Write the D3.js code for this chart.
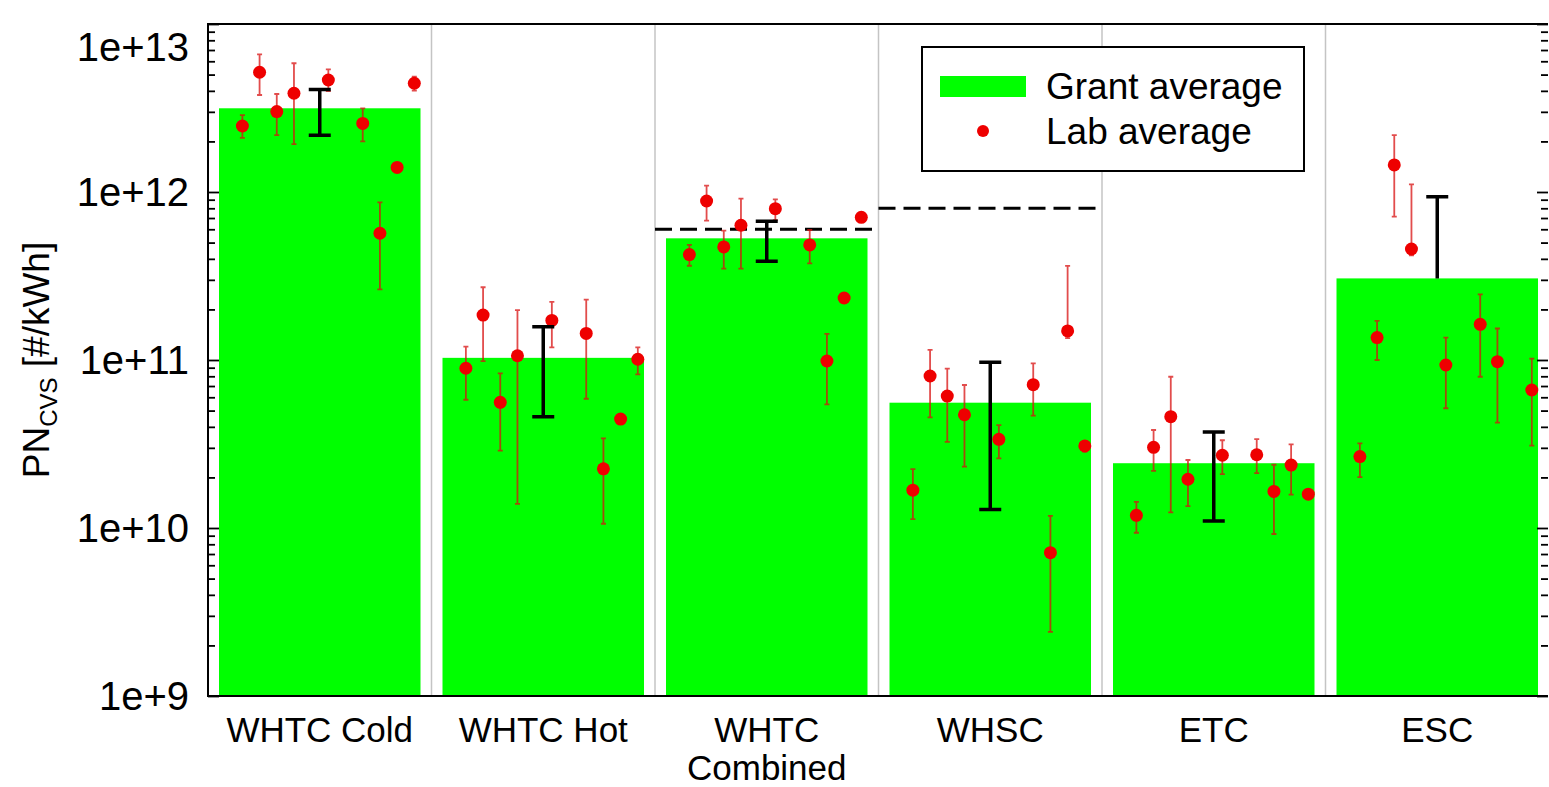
<!DOCTYPE html>
<html>
<head>
<meta charset="utf-8">
<script src="https://cdn.jsdelivr.net/npm/d3@7"></script>
<style>
  body { margin: 0; background: #fff; }
  text { font-family: "Liberation Sans", Arial, sans-serif; fill: #000; }
</style>
</head>
<body>
<div id="chart"></div>
<script>
// categories (test cycles)
var cycles = ["WHTC Cold", "WHTC Hot", "WHTC Combined", "WHSC", "ETC", "ESC"];
var cycleLabels = [["WHTC Cold"], ["WHTC Hot"], ["WHTC", "Combined"], ["WHSC"], ["ETC"], ["ESC"]];

// grant average (bars) and its spread (black error bars)
var grantAvg  = [3.15e12, 1.03e11, 5.30e11, 5.57e10, 2.43e10, 3.06e11];
var grantLow  = [2.18e12, 4.60e10, 3.87e11, 1.29e10, 1.10e10, null];
var grantHigh = [4.08e12, 1.58e11, 6.69e11, 9.69e10, 3.73e10, 9.37e11];

// limit values (dashed lines)
var limitValue = [null, null, 6.0e11, 8.0e11, null, null];

// lab averages, 12 lab slots per cycle (null = no result)
var labMean = [
  [null, 2.47e12, 5.16e12, 3.01e12, 3.87e12, null, 4.64e12, null, 2.56e12, 5.68e11, 1.40e12, 4.44e12],
  [null, 8.93e10, 1.85e11, 5.60e10, 1.06e11, null, 1.72e11, null, 1.44e11, 2.25e10, 4.45e10, 1.01e11],
  [null, 4.24e11, 8.84e11, 4.71e11, 6.34e11, null, 7.96e11, null, 4.84e11, 9.86e10, 2.34e11, 7.07e11],
  [null, 1.68e10, 8.03e10, 6.10e10, 4.72e10, null, 3.37e10, null, 7.13e10, 7.13e9, 1.49e11, 3.08e10],
  [null, 1.19e10, 3.02e10, 4.60e10, 1.95e10, null, 2.71e10, null, 2.73e10, 1.65e10, 2.37e10, 1.59e10],
  [null, 2.66e10, 1.36e11, 1.45e12, 4.58e11, null, 9.34e10, null, 1.63e11, 9.77e10, null, 6.63e10]
];
var labLow = [
  [null, 2.10e12, 3.78e12, 2.18e12, 1.93e12, null, 3.99e12, null, 2.00e12, 2.63e11, null, 4.01e12],
  [null, 5.80e10, 9.86e10, 2.89e10, 1.39e10, null, 1.19e11, null, 5.88e10, 1.06e10, null, 8.22e10],
  [null, 3.64e11, 6.75e11, 3.50e11, 3.50e11, null, 6.81e11, null, 3.76e11, 5.45e10, null, null],
  [null, 1.13e10, 4.56e10, 3.26e10, 2.32e10, null, 2.60e10, null, 4.66e10, 2.41e9, 1.35e11, 2.85e10],
  [null, 9.37e9, 2.19e10, 1.24e10, 1.35e10, null, 2.09e10, null, 2.12e10, 9.21e9, 1.58e10, null],
  [null, 2.01e10, 1.00e11, 7.13e11, 4.20e11, null, 5.16e10, null, 7.95e10, 4.24e10, null, 3.09e10]
];
var labHigh = [
  [null, 2.87e12, 6.60e12, 3.83e12, 5.84e12, null, 5.37e12, null, 3.15e12, 8.68e11, null, 4.86e12],
  [null, 1.20e11, 2.71e11, 8.33e10, 1.98e11, null, 2.22e11, null, 2.29e11, 3.42e10, null, 1.19e11],
  [null, 4.84e11, 1.09e12, 5.89e11, 9.12e11, null, 9.05e11, null, 5.94e11, 1.43e11, null, null],
  [null, 2.24e10, 1.15e11, 8.88e10, 7.10e10, null, 4.10e10, null, 9.56e10, 1.18e10, 3.63e11, 3.30e10],
  [null, 1.43e10, 3.83e10, 7.95e10, 2.54e10, null, 3.33e10, null, 3.38e10, 2.38e10, 3.15e10, null],
  [null, 3.19e10, 1.71e11, 2.18e12, 1.11e12, null, 1.36e11, null, 2.46e11, 1.54e11, null, 1.02e11]
];

// y tick labels
var yTickValues = [1e9, 1e10, 1e11, 1e12, 1e13];
var yTickLabels = ["1e+9", "1e+10", "1e+11", "1e+12", "1e+13"];

var W = 1549, H = 787;
var margin = { top: 24, right: 0, bottom: 91, left: 208 };
var width = W - margin.left - margin.right,
    height = H - margin.top - margin.bottom;

var svg = d3.select("#chart").append("svg")
    .attr("width", W)
    .attr("height", H);

var g = svg.append("g")
    .attr("transform", "translate(" + margin.left + "," + margin.top + ")");

// ESCALAS
var x = d3.scaleBand().domain(cycles).range([0, width]).padding(0);
var y = d3.scaleLog().domain([1e9, 1e13]).range([height, 0]);
var slot = d3.scaleLinear().domain([0, 13]).range([0, x.bandwidth()]); // lab slots inside a group

// separadores verticales
g.selectAll(".sep")
    .data(cycles.slice(1))
    .enter().append("line")
    .attr("x1", d => x(d)).attr("x2", d => x(d))
    .attr("y1", 0).attr("y2", height)
    .attr("stroke", "#c4c4c4")
    .attr("stroke-width", 1.5);

// barras (grant average)
var barInset = 11;
g.selectAll(".bar")
    .data(cycles)
    .enter().append("rect")
    .attr("x", d => x(d) + barInset)
    .attr("width", x.bandwidth() - 2 * barInset)
    .attr("y", (d, i) => y(grantAvg[i]))
    .attr("height", (d, i) => height - y(grantAvg[i]))
    .attr("fill", "#00ff00");

// limites (dashed)
g.selectAll(".limit")
    .data(cycles.filter((d, i) => limitValue[i] != null))
    .enter().append("line")
    .attr("x1", d => x(d)).attr("x2", d => x(d) + x.bandwidth())
    .attr("y1", d => y(limitValue[cycles.indexOf(d)]))
    .attr("y2", d => y(limitValue[cycles.indexOf(d)]))
    .attr("stroke", "#000")
    .attr("stroke-width", 3)
    .attr("stroke-dasharray", "17,8");

// lab points
var labs = [];
cycles.forEach(function(c, i) {
    labMean[i].forEach(function(v, k) {
        if (v == null) return;
        labs.push({ cycle: c, k: k + 1, mean: v, low: labLow[i][k], high: labHigh[i][k] });
    });
});

var labG = g.append("g");
var withErr = labs.filter(d => d.low != null);
var capW = 2.5;

labG.selectAll(".eb")
    .data(withErr)
    .enter().append("path")
    .attr("d", function(d) {
        var cx = x(d.cycle) + slot(d.k);
        var yl = y(d.low), yh = y(d.high);
        return "M" + (cx - capW) + "," + yh + "H" + (cx + capW) +
               "M" + cx + "," + yh + "V" + yl +
               "M" + (cx - capW) + "," + yl + "H" + (cx + capW);
    })
    .attr("fill", "none")
    .attr("stroke", "#d81010")
    .attr("stroke-opacity", 0.75)
    .attr("stroke-width", 1.8);

labG.selectAll(".dot")
    .data(labs)
    .enter().append("circle")
    .attr("cx", d => x(d.cycle) + slot(d.k))
    .attr("cy", d => y(d.mean))
    .attr("r", 6.5)
    .attr("fill", "#ee0000");

// black error bars (grant spread)
var bigCap = 11;
g.selectAll(".geb")
    .data(cycles)
    .enter().append("path")
    .attr("d", function(d, i) {
        var cx = x(d) + x.bandwidth() / 2;
        var yh = y(grantHigh[i]);
        var p = "M" + (cx - bigCap) + "," + yh + "H" + (cx + bigCap) + "M" + cx + "," + yh;
        if (grantLow[i] != null) {
            var yl = y(grantLow[i]);
            p += "V" + yl + "M" + (cx - bigCap) + "," + yl + "H" + (cx + bigCap);
        } else {
            p += "V" + y(grantAvg[i]);
        }
        return p;
    })
    .attr("fill", "none")
    .attr("stroke", "#000")
    .attr("stroke-width", 3.5);

// EJES: ticks hacia dentro a ambos lados
var ticksAll = y.ticks();
function tickLen(d) {
    var l = Math.log10(d);
    return Math.abs(l - Math.round(l)) < 1e-6 ? 11 : 7;
}
var leftAx = g.append("g").call(d3.axisRight(y).tickValues(ticksAll).tickFormat("").tickSizeOuter(0));
leftAx.selectAll(".tick line").attr("x2", d => tickLen(d)).attr("stroke-width", 1.8);
leftAx.select(".domain").remove();

var rightAx = g.append("g").attr("transform", "translate(" + (width - 1) + ",0)")
    .call(d3.axisLeft(y).tickValues(ticksAll).tickFormat("").tickSizeOuter(0));
rightAx.selectAll(".tick line").attr("x2", d => -tickLen(d)).attr("stroke-width", 1.8);
rightAx.select(".domain").remove();

// frame
g.append("path")
    .attr("d", "M" + (width - 1) + ",0H0V" + height + "H" + (width - 1))
    .attr("fill", "none")
    .attr("stroke", "#000")
    .attr("stroke-width", 2);

// y tick labels
g.selectAll(".ylab")
    .data(yTickValues)
    .enter().append("text")
    .attr("x", -19)
    .attr("y", d => Math.max(y(d), 23))
    .attr("dy", "0.36em")
    .attr("text-anchor", "end")
    .style("font-size", "40px")
    .text((d, i) => yTickLabels[i]);

// x labels
var xl = g.selectAll(".xlab")
    .data(cycles)
    .enter().append("text")
    .attr("text-anchor", "middle")
    .attr("transform", d => "translate(" + (x(d) + x.bandwidth() / 2) + "," + (height + 46) + ")")
    .style("font-size", "35px");
xl.selectAll("tspan")
    .data((d, i) => cycleLabels[i])
    .enter().append("tspan")
    .attr("x", 0)
    .attr("dy", (d, j) => j === 0 ? 0 : 38)
    .text(d => d);

// y axis title
var yt = svg.append("text")
    .attr("transform", "translate(49," + (margin.top + height / 2) + ") rotate(-90)")
    .attr("text-anchor", "middle")
    .style("font-size", "37px");
yt.append("tspan").text("PN");
yt.append("tspan").attr("dy", 8).style("font-size", "24px").text("CVS");
yt.append("tspan").attr("dy", -8).text(" [#/kWh]");

// LEGEND
var lg = svg.append("g").attr("transform", "translate(922,47)");
lg.append("rect")
    .attr("width", 382).attr("height", 124)
    .attr("fill", "#fff").attr("stroke", "#000").attr("stroke-width", 2);
lg.append("rect")
    .attr("x", 18).attr("y", 29).attr("width", 86).attr("height", 21)
    .attr("fill", "#00ff00");
lg.append("circle")
    .attr("cx", 61).attr("cy", 84).attr("r", 6)
    .attr("fill", "#ee0000");
lg.append("text").attr("x", 124).attr("y", 52).style("font-size", "37px").text("Grant average");
lg.append("text").attr("x", 124).attr("y", 97).style("font-size", "37px").text("Lab average");
</script>
</body>
</html>
